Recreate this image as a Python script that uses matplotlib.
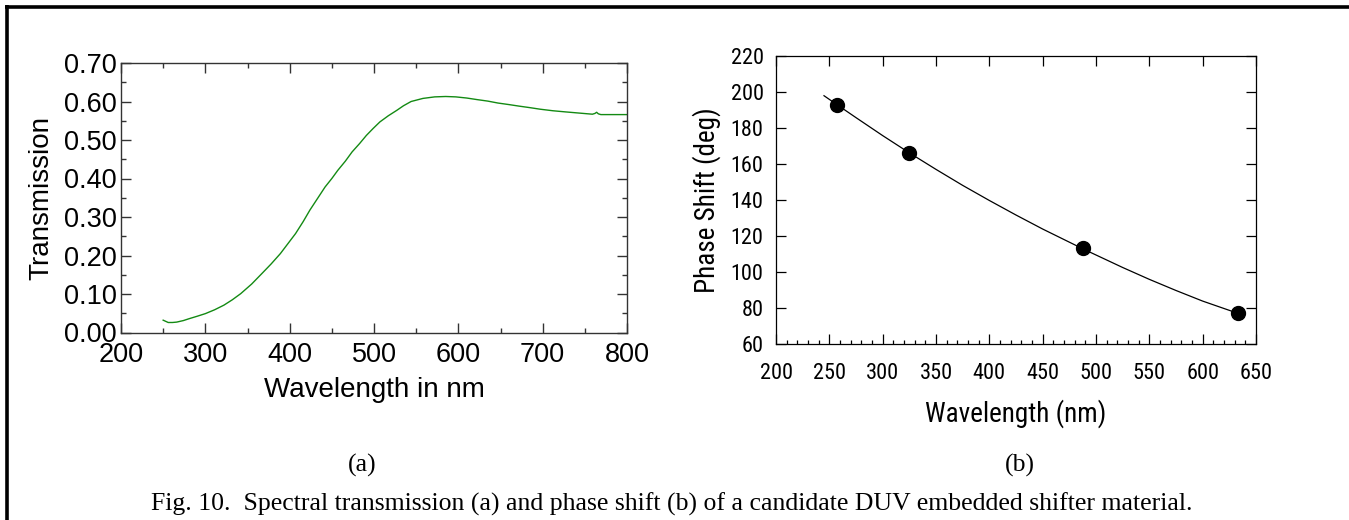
import matplotlib
matplotlib.use("Agg")
import matplotlib.pyplot as plt
from matplotlib.lines import Line2D
from matplotlib.ticker import MultipleLocator
from matplotlib import font_manager

# ---------------- data ----------------
trans_wl = [250, 253, 256, 261, 266, 274, 281, 290, 300, 311, 322, 332, 342, 355, 367, 378, 389,
            398, 407, 416, 424, 433, 442, 450, 457, 466, 474, 483, 491, 499, 507, 517, 527, 535,
            544, 558, 572, 585, 597, 610, 622, 635, 647, 660, 672, 685, 697, 712, 727, 743,
            759, 762, 764, 766, 769, 785, 800]
trans_val = [0.032, 0.029, 0.026, 0.026, 0.027, 0.031, 0.036, 0.042, 0.049, 0.059, 0.071, 0.085,
             0.101, 0.126, 0.153, 0.178, 0.205, 0.231, 0.257, 0.288, 0.318, 0.348, 0.378, 0.400,
             0.421, 0.445, 0.469, 0.491, 0.512, 0.530, 0.547, 0.563, 0.577, 0.589, 0.600, 0.608,
             0.612, 0.613, 0.612, 0.609, 0.605, 0.601, 0.596, 0.592, 0.588, 0.584, 0.580, 0.576,
             0.573, 0.570, 0.567, 0.569, 0.572, 0.568, 0.566, 0.566, 0.566]

phase_pt_wl = [257, 325, 488, 633]
phase_pt_val = [193, 166, 113, 77]

phase_fit_wl = [245, 257, 275, 300, 325, 350, 375, 400, 425, 450, 488, 525, 550, 575, 600, 633]
phase_fit_val = [197.9, 193.0, 185.7, 175.7, 166.1, 156.9, 148.0, 139.6, 131.5, 123.7, 112.6,
                 102.3, 95.7, 89.5, 83.6, 76.8]

left_xticks = [200, 300, 400, 500, 600, 700, 800]
left_yticks = [0.0, 0.1, 0.2, 0.3, 0.4, 0.5, 0.6, 0.7]
left_yticklabels = ["0.00", "0.10", "0.20", "0.30", "0.40", "0.50", "0.60", "0.70"]
right_xticks = [200, 250, 300, 350, 400, 450, 500, 550, 600, 650]
right_yticks = [60, 80, 100, 120, 140, 160, 180, 200, 220]

# ---------------- fonts ----------------
names = {f.name for f in font_manager.fontManager.ttflist}
narrow = None
for cand in ["Liberation Sans Narrow", "Arial Narrow", "Roboto Condensed", "Open Sans Condensed",
             "Noto Sans Condensed", "DejaVu Sans Condensed"]:
    if cand in names:
        narrow = cand
        break
narrow_kw = {"fontfamily": narrow} if narrow else {"fontfamily": "DejaVu Sans", "fontstretch": "condensed"}
sans = "Liberation Sans"
serif = "Liberation Serif"

W, H = 1349, 520
fig = plt.figure(figsize=(W / 100, H / 100), dpi=100)

# frame lines (top and left)
fig.add_artist(Line2D([5 / W, 1.0], [1 - 6.5 / H, 1 - 6.5 / H], transform=fig.transFigure,
                      color="black", lw=2.6, solid_capstyle="butt"))
fig.add_artist(Line2D([6.5 / W, 6.5 / W], [0.0, 1 - 5 / H], transform=fig.transFigure,
                      color="black", lw=2.6, solid_capstyle="butt"))

# ---------------- left panel ----------------
ax1 = fig.add_axes([121 / W, 1 - 332.5 / H, 506 / W, 269.5 / H])
ax1.plot(trans_wl, trans_val, color="#138a13", lw=1.0)
ax1.set_xlim(200, 800)
ax1.set_ylim(0, 0.70)
ax1.set_xticks(left_xticks)
ax1.set_yticks(left_yticks)
ax1.set_yticklabels(left_yticklabels)
ax1.xaxis.set_minor_locator(MultipleLocator(50))
ax1.yaxis.set_minor_locator(MultipleLocator(0.05))
ax1.tick_params(which="both", direction="in", top=True, right=True, color="#333333",
                width=1.0, labelsize=19.5)
ax1.tick_params(which="major", length=7)
ax1.tick_params(which="minor", length=3.6)
ax1.tick_params(axis="x", pad=6.5)
ax1.tick_params(axis="y", pad=3)
for lab in ax1.get_xticklabels() + ax1.get_yticklabels():
    lab.set_fontfamily(sans)
for s in ax1.spines.values():
    s.set_color("#333333")
    s.set_linewidth(1.0)
ax1.set_xlabel("Wavelength in nm", fontsize=20, fontfamily=sans, labelpad=6.5)
ax1.set_ylabel("Transmission", fontsize=20, fontfamily=sans, labelpad=7)

# ---------------- right panel ----------------
ax2 = fig.add_axes([776 / W, 1 - 343.5 / H, 480 / W, 287.5 / H])
ax2.plot(phase_fit_wl, phase_fit_val, color="black", lw=0.9)
ax2.plot(phase_pt_wl, phase_pt_val, "o", color="black", ms=10)
ax2.set_xlim(200, 650)
ax2.set_ylim(60, 220)
ax2.set_xticks(right_xticks)
ax2.set_yticks(right_yticks)
ax2.xaxis.set_minor_locator(MultipleLocator(10))
ax2.tick_params(which="both", direction="in", top=True, right=True, color="black",
                width=0.9, labelsize=16)
ax2.tick_params(which="major", length=7)
ax2.tick_params(which="minor", length=3, top=False)
ax2.tick_params(axis="x", pad=14)
ax2.tick_params(axis="y", pad=9)
for lab in ax2.get_xticklabels() + ax2.get_yticklabels():
    lab.set(**narrow_kw)
for s in ax2.spines.values():
    s.set_color("black")
    s.set_linewidth(0.9)
ax2.set_xlabel("Wavelength (nm)", fontsize=19.5, labelpad=11, **narrow_kw)
ax2.set_ylabel("Phase Shift (deg)", fontsize=19.5, labelpad=7, **narrow_kw)

# ---------------- captions ----------------
fig.text(362 / W, 1 - 465 / H, "(a)", ha="center", va="center", fontsize=18.5, fontfamily=serif)
fig.text(1020 / W, 1 - 465 / H, "(b)", ha="center", va="center", fontsize=18.5, fontfamily=serif)
fig.text(672 / W, 1 - 504 / H,
         "Fig. 10.  Spectral transmission (a) and phase shift (b) of a candidate DUV embedded shifter material.",
         ha="center", va="center", fontsize=18.5, fontfamily=serif)

fig.savefig("out.png", dpi=100)
